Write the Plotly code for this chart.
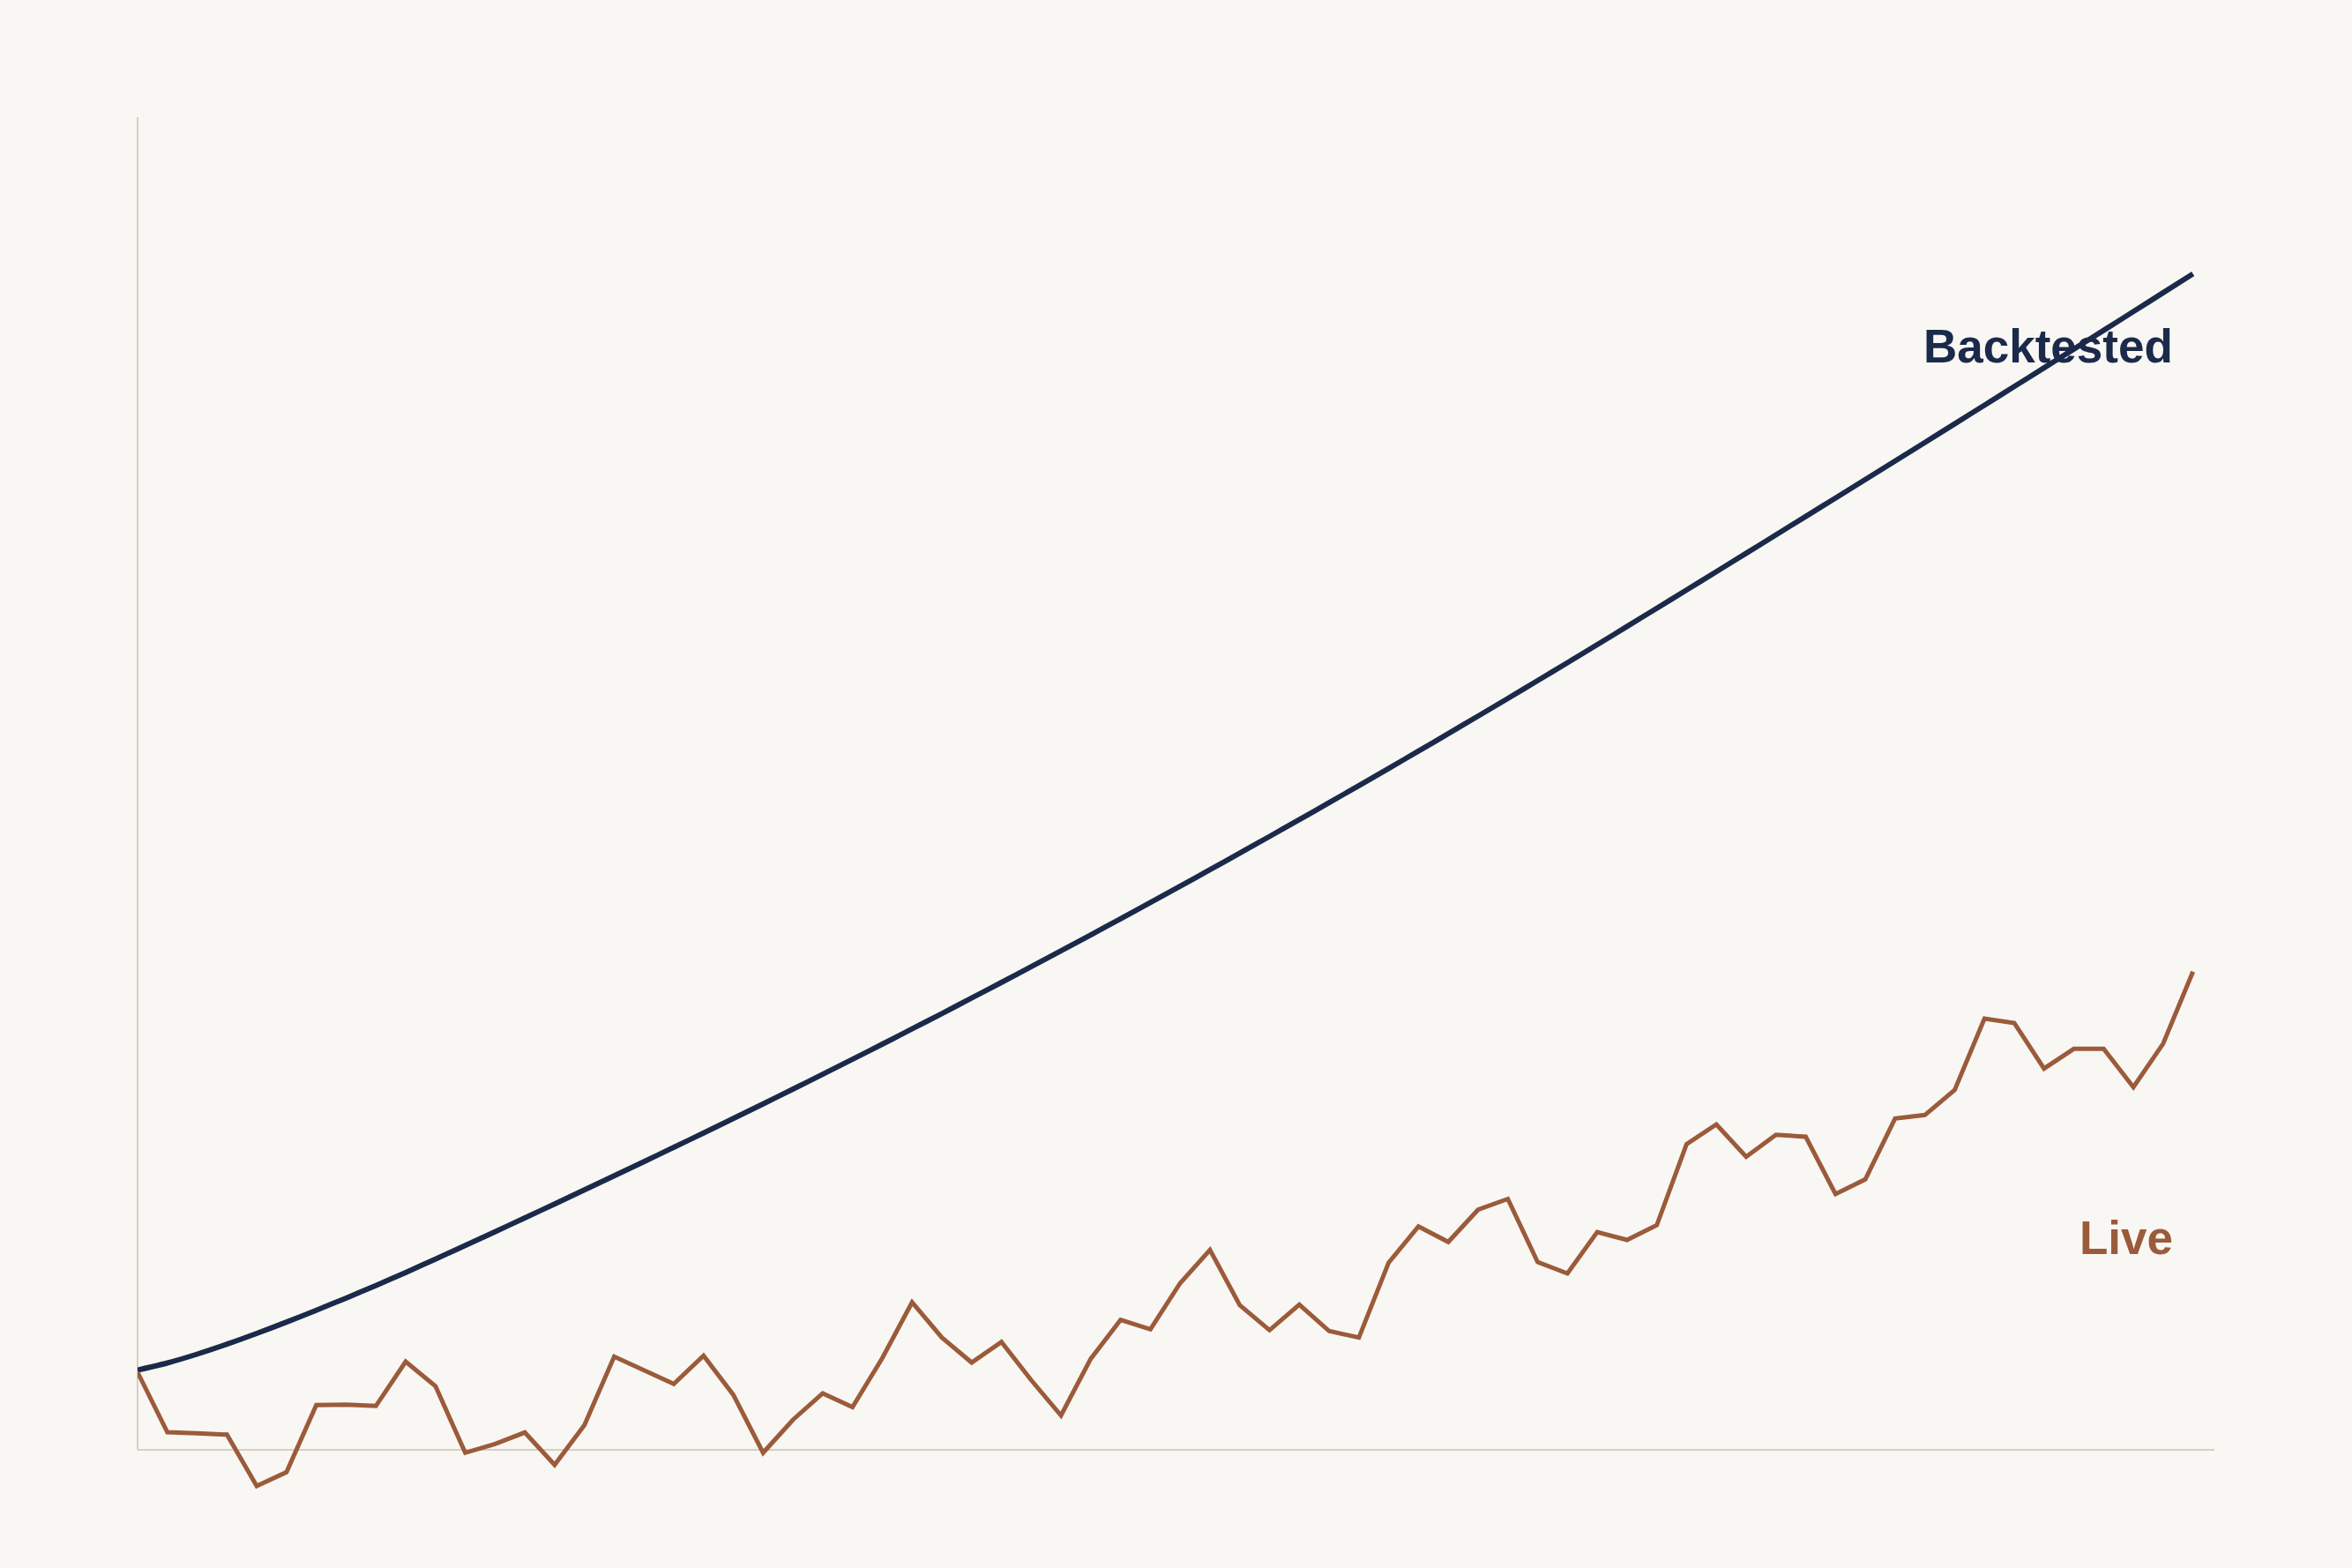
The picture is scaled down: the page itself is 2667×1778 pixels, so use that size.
import plotly.graph_objects as go

# Backtested vs live equity curve, one point per period
periods = list(range(70))

backtested = [
    9.05, 9.85, 10.85, 11.98, 13.20, 14.49, 15.83, 17.21, 18.63, 20.11,
    21.63, 23.17, 24.73, 26.30, 27.88, 29.47, 31.07, 32.68, 34.30, 35.93,
    37.57, 39.23, 40.90, 42.59, 44.29, 46.00, 47.73, 49.47, 51.23, 53.00,
    54.78, 56.58, 58.39, 60.22, 62.06, 63.91, 65.78, 67.66, 69.55, 71.46,
    73.38, 75.32, 77.27, 79.23, 81.21, 83.20, 85.20, 87.22, 89.25, 91.30,
    93.36, 95.43, 97.50, 99.58, 101.66, 103.75, 105.84, 107.93, 110.03, 112.13,
    114.23, 116.34, 118.45, 120.57, 122.69, 124.81, 126.94, 129.07, 131.21, 133.35,
]

live = [
    8.80, 2.00, 1.87, 1.73, -4.10, -2.53, 5.07, 5.13, 4.97, 10.00,
    7.23, -0.33, 0.67, 1.97, -1.70, 2.80, 10.57, 9.07, 7.47, 10.67,
    6.23, -0.33, 3.40, 6.40, 4.85, 10.40, 16.73, 12.73, 9.90, 12.23,
    7.90, 3.90, 10.33, 14.73, 13.67, 18.90, 22.67, 16.40, 13.57, 16.47,
    13.47, 12.73, 21.23, 25.33, 23.57, 27.23, 28.45, 21.30, 20.00, 24.70,
    23.80, 25.47, 34.67, 36.90, 33.23, 35.73, 35.50, 29.00, 30.67, 37.57,
    37.97, 40.80, 48.90, 48.40, 43.23, 45.47, 45.47, 41.13, 46.07, 54.23,
]

series_names = ['Backtested', 'Live']
label_y = [125.2, 24.1]

NAVY = '#1b2a4a'
BROWN = '#9b5b3b'
AXIS = '#d6cfc2'
BG = '#f9f7f3'

fig = go.Figure()
fig.add_trace(go.Scatter(x=periods, y=backtested, mode='lines',
                         line=dict(color=NAVY, width=6, shape='spline', smoothing=0.8),
                         name=series_names[0]))
fig.add_trace(go.Scatter(x=periods, y=live, mode='lines',
                         line=dict(color=BROWN, width=5), name=series_names[1]))

# axis lines drawn as shapes so the live line can dip below the baseline
fig.add_shape(type='line', xref='paper', yref='y', x0=0, x1=1, y0=0, y1=0,
              line=dict(color=AXIS, width=2), layer='below')
fig.add_shape(type='line', xref='paper', yref='paper', x0=0, x1=0, y0=0.0467, y1=1,
              line=dict(color=AXIS, width=2), layer='below')

for name, y, color in zip(series_names, label_y, [NAVY, BROWN]):
    fig.add_annotation(x=periods[-1] - 0.62, y=y, xref='x', yref='y', text=name,
                       showarrow=False, xanchor='right', yanchor='middle',
                       font=dict(family='Liberation Sans, Arial, sans-serif',
                                 size=53, color=color, weight='bold'))

fig.update_layout(
    width=2667, height=1778,
    margin=dict(l=156, r=156, t=133, b=60),
    paper_bgcolor=BG, plot_bgcolor=BG,
    showlegend=False,
    hovermode=False,
    xaxis=dict(range=[0, 69.72], visible=False),
    yaxis=dict(range=[-7.4, 151.1], visible=False),
)

# drop the page's default body margin so the figure fills the window
fig.write_html("out.html",
               config={'displayModeBar': False},
               post_script="document.body.style.margin='0';"
                           "document.body.style.background='#f9f7f3';")
